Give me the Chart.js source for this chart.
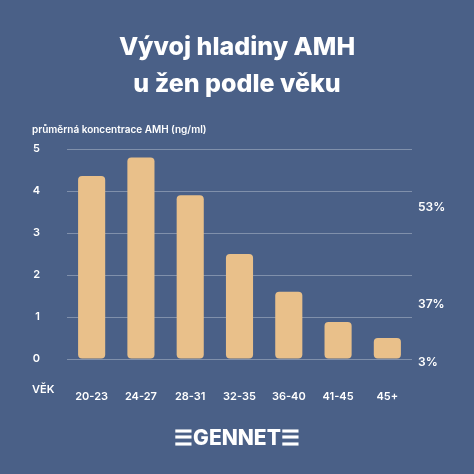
<!DOCTYPE html>
<html>
<head>
<meta charset="utf-8">
<script src="https://cdn.jsdelivr.net/npm/chart.js@4"></script>
<style>
  body { margin: 0; background: #4a6087; font-family: Inter, sans-serif; }
  #wrap { position: relative; width: 474px; height: 474px; }
  #title { position: absolute; top: 28px; left: 0; width: 474px; text-align: center; color: #fff; font-weight: 800; font-size: 25px; line-height: 37px; }
  #ylab { position: absolute; left: 32px; top: 123px; color: #fff; font-size: 10px; font-weight: 600; }
  #logo { position: absolute; left: 0; width: 474px; top: 425px; text-align: center; color: #fff; font-size: 21px; font-weight: 800; }
  canvas { position: absolute; left: 0; top: 0; }
</style>
</head>
<body>
<div id="wrap">
  <canvas id="chart" width="474" height="474"></canvas>
  <div id="title">Vývoj hladiny AMH<br>u žen podle věku</div>
  <div id="ylab">průměrná koncentrace AMH (ng/ml)</div>
  <div id="logo">☰GENNET☰</div>
</div>
<script>
// data
const ages = ["20-23", "24-27", "28-31", "32-35", "36-40", "41-45", "45+"];
const amh = [4.36, 4.8, 3.9, 2.5, 1.6, 0.88, 0.5];
const sideLabels = ["53%", "37%", "3%"];
const sideValues = [3.6, 1.3, -0.07];

// pravé popisky a "VĚK"
const extraText = {
  id: "extraText",
  afterDraw(chart) {
    const ctx = chart.ctx;
    const y = chart.scales.y;
    ctx.save();
    ctx.fillStyle = "#fff";
    ctx.font = "600 12px Inter, sans-serif";
    ctx.textBaseline = "middle";
    ctx.textAlign = "left";
    sideLabels.forEach((t, i) => ctx.fillText(t, 418, y.getPixelForValue(sideValues[i])));
    ctx.font = "600 11px Inter, sans-serif";
    ctx.fillText("VĚK", 32, 390);
    ctx.restore();
  }
};

new Chart(document.getElementById("chart"), {
  type: "bar",
  data: {
    labels: ages,
    datasets: [{
      data: amh,
      backgroundColor: "#e9c08a",
      borderRadius: 4,
      borderSkipped: false,
      barPercentage: 0.55,
      categoryPercentage: 1
    }]
  },
  options: {
    responsive: false,
    animation: false,
    layout: { padding: { top: 149, right: 62, bottom: 0, left: 0 } },
    plugins: { legend: { display: false }, tooltip: { enabled: false } },
    scales: {
      x: {
        grid: { display: false },
        border: { display: false },
        ticks: { color: "#fff", font: { family: "Inter", size: 11, weight: "600" }, padding: 23, maxRotation: 0 },
        afterFit: s => { s.height = 115; }
      },
      y: {
        min: 0, max: 5,
        grid: { color: "rgba(255,255,255,0.3)", drawTicks: false },
        border: { display: false },
        ticks: { stepSize: 1, color: "#fff", font: { family: "Inter", size: 11, weight: "600" }, padding: 27 },
        afterFit: s => { s.width = 67; }
      }
    }
  },
  plugins: [extraText]
});
</script>
</body>
</html>
